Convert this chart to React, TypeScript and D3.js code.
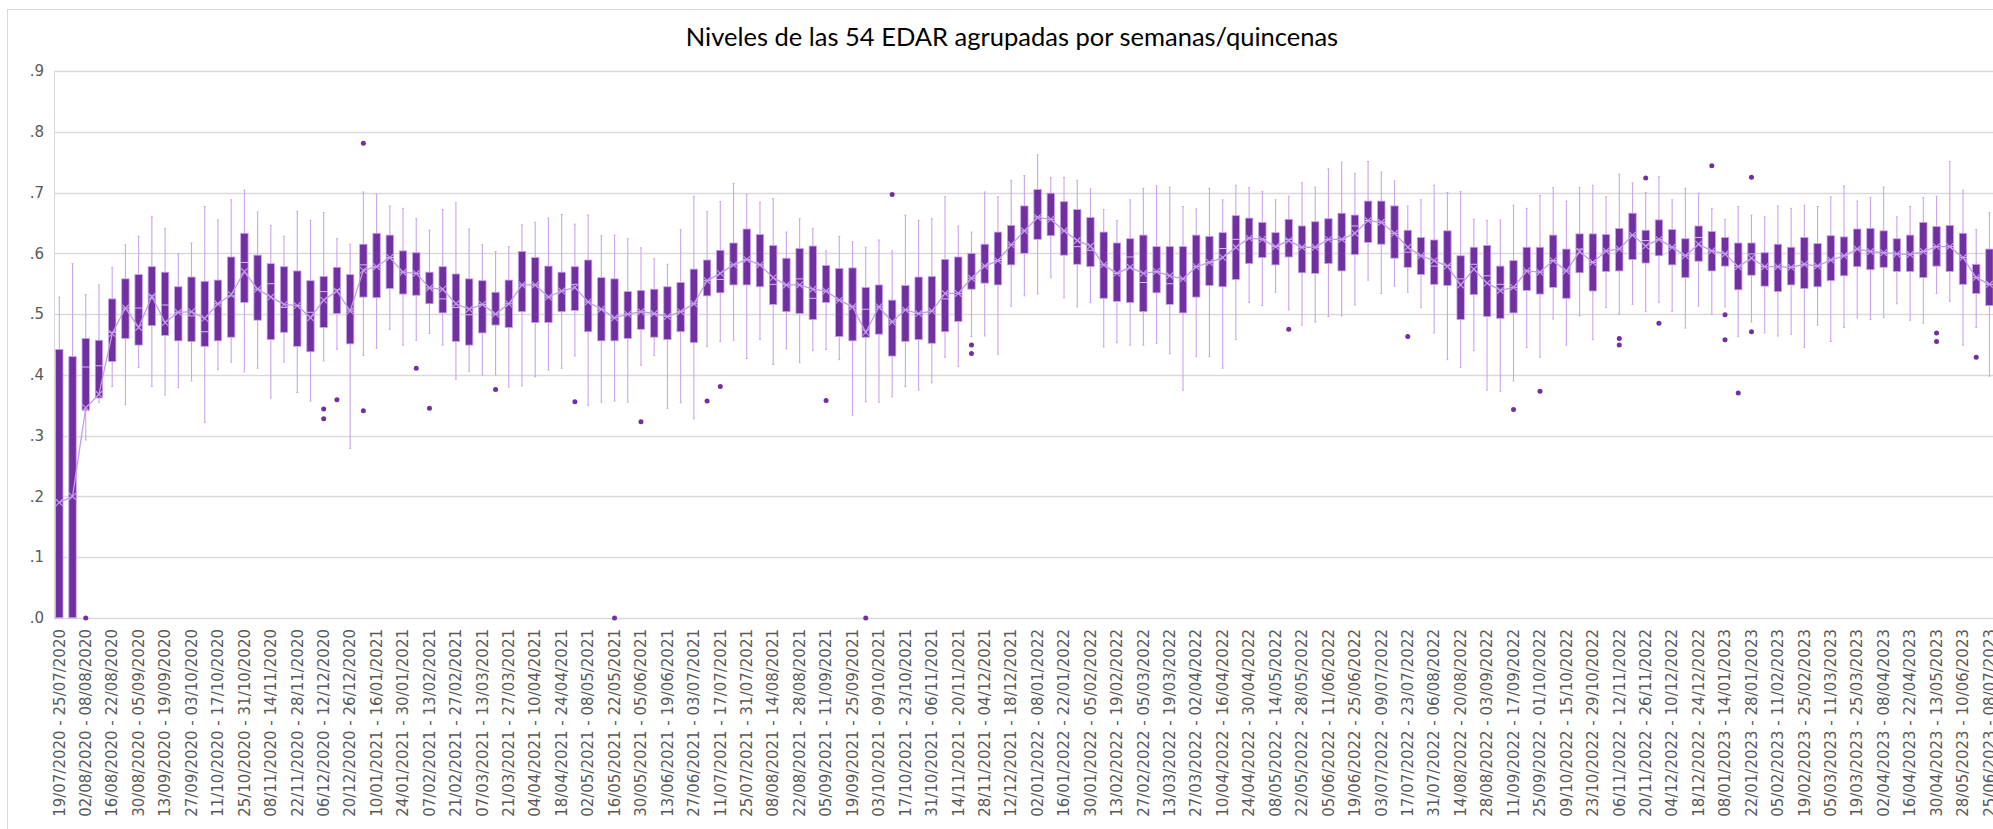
import React from "react";
import * as d3 from "d3";

const TITLE = "Niveles de las 54 EDAR agrupadas por semanas/quincenas";

const CATEGORIES: string[] = [
  "19/07/2020 - 25/07/2020", "26/07/2020 - 01/08/2020", "02/08/2020 - 08/08/2020", "09/08/2020 - 15/08/2020",
  "16/08/2020 - 22/08/2020", "23/08/2020 - 29/08/2020", "30/08/2020 - 05/09/2020", "06/09/2020 - 12/09/2020",
  "13/09/2020 - 19/09/2020", "20/09/2020 - 26/09/2020", "27/09/2020 - 03/10/2020", "04/10/2020 - 10/10/2020",
  "11/10/2020 - 17/10/2020", "18/10/2020 - 24/10/2020", "25/10/2020 - 31/10/2020", "01/11/2020 - 07/11/2020",
  "08/11/2020 - 14/11/2020", "15/11/2020 - 21/11/2020", "22/11/2020 - 28/11/2020", "29/11/2020 - 05/12/2020",
  "06/12/2020 - 12/12/2020", "13/12/2020 - 19/12/2020", "20/12/2020 - 26/12/2020", "27/12/2020 - 09/01/2021",
  "10/01/2021 - 16/01/2021", "17/01/2021 - 23/01/2021", "24/01/2021 - 30/01/2021", "31/01/2021 - 06/02/2021",
  "07/02/2021 - 13/02/2021", "14/02/2021 - 20/02/2021", "21/02/2021 - 27/02/2021", "28/02/2021 - 06/03/2021",
  "07/03/2021 - 13/03/2021", "14/03/2021 - 20/03/2021", "21/03/2021 - 27/03/2021", "28/03/2021 - 03/04/2021",
  "04/04/2021 - 10/04/2021", "11/04/2021 - 17/04/2021", "18/04/2021 - 24/04/2021", "25/04/2021 - 01/05/2021",
  "02/05/2021 - 08/05/2021", "09/05/2021 - 15/05/2021", "16/05/2021 - 22/05/2021", "23/05/2021 - 29/05/2021",
  "30/05/2021 - 05/06/2021", "06/06/2021 - 12/06/2021", "13/06/2021 - 19/06/2021", "20/06/2021 - 26/06/2021",
  "27/06/2021 - 03/07/2021", "04/07/2021 - 10/07/2021", "11/07/2021 - 17/07/2021", "18/07/2021 - 24/07/2021",
  "25/07/2021 - 31/07/2021", "01/08/2021 - 07/08/2021", "08/08/2021 - 14/08/2021", "15/08/2021 - 21/08/2021",
  "22/08/2021 - 28/08/2021", "29/08/2021 - 04/09/2021", "05/09/2021 - 11/09/2021", "12/09/2021 - 18/09/2021",
  "19/09/2021 - 25/09/2021", "26/09/2021 - 02/10/2021", "03/10/2021 - 09/10/2021", "10/10/2021 - 16/10/2021",
  "17/10/2021 - 23/10/2021", "24/10/2021 - 30/10/2021", "31/10/2021 - 06/11/2021", "07/11/2021 - 13/11/2021",
  "14/11/2021 - 20/11/2021", "21/11/2021 - 27/11/2021", "28/11/2021 - 04/12/2021", "05/12/2021 - 11/12/2021",
  "12/12/2021 - 18/12/2021", "19/12/2021 - 01/01/2022", "02/01/2022 - 08/01/2022", "09/01/2022 - 15/01/2022",
  "16/01/2022 - 22/01/2022", "23/01/2022 - 29/01/2022", "30/01/2022 - 05/02/2022", "06/02/2022 - 12/02/2022",
  "13/02/2022 - 19/02/2022", "20/02/2022 - 26/02/2022", "27/02/2022 - 05/03/2022", "06/03/2022 - 12/03/2022",
  "13/03/2022 - 19/03/2022", "20/03/2022 - 26/03/2022", "27/03/2022 - 02/04/2022", "03/04/2022 - 09/04/2022",
  "10/04/2022 - 16/04/2022", "17/04/2022 - 23/04/2022", "24/04/2022 - 30/04/2022", "01/05/2022 - 07/05/2022",
  "08/05/2022 - 14/05/2022", "15/05/2022 - 21/05/2022", "22/05/2022 - 28/05/2022", "29/05/2022 - 04/06/2022",
  "05/06/2022 - 11/06/2022", "12/06/2022 - 18/06/2022", "19/06/2022 - 25/06/2022", "26/06/2022 - 02/07/2022",
  "03/07/2022 - 09/07/2022", "10/07/2022 - 16/07/2022", "17/07/2022 - 23/07/2022", "24/07/2022 - 30/07/2022",
  "31/07/2022 - 06/08/2022", "07/08/2022 - 13/08/2022", "14/08/2022 - 20/08/2022", "21/08/2022 - 27/08/2022",
  "28/08/2022 - 03/09/2022", "04/09/2022 - 10/09/2022", "11/09/2022 - 17/09/2022", "18/09/2022 - 24/09/2022",
  "25/09/2022 - 01/10/2022", "02/10/2022 - 08/10/2022", "09/10/2022 - 15/10/2022", "16/10/2022 - 22/10/2022",
  "23/10/2022 - 29/10/2022", "30/10/2022 - 05/11/2022", "06/11/2022 - 12/11/2022", "13/11/2022 - 19/11/2022",
  "20/11/2022 - 26/11/2022", "27/11/2022 - 03/12/2022", "04/12/2022 - 10/12/2022", "11/12/2022 - 17/12/2022",
  "18/12/2022 - 24/12/2022", "25/12/2022 - 07/01/2023", "08/01/2023 - 14/01/2023", "15/01/2023 - 21/01/2023",
  "22/01/2023 - 28/01/2023", "29/01/2023 - 04/02/2023", "05/02/2023 - 11/02/2023", "12/02/2023 - 18/02/2023",
  "19/02/2023 - 25/02/2023", "26/02/2023 - 04/03/2023", "05/03/2023 - 11/03/2023", "12/03/2023 - 18/03/2023",
  "19/03/2023 - 25/03/2023", "26/03/2023 - 01/04/2023", "02/04/2023 - 08/04/2023", "09/04/2023 - 15/04/2023",
  "16/04/2023 - 22/04/2023", "23/04/2023 - 29/04/2023", "30/04/2023 - 13/05/2023", "14/05/2023 - 27/05/2023",
  "28/05/2023 - 10/06/2023", "11/06/2023 - 24/06/2023", "25/06/2023 - 08/07/2023",
];

const WHISKER_LOW = [
  0, 0, .293, .355, .381, .351, .412, .381, .367, .379, .390, .322, .409, .421, .405, .411, .362, .421, .371, .357,
  .423, .442, .279, .432, .444, .475, .449, .457, .468, .449, .393, .406, .400, .400, .380, .382, .397, .408, .411, .431,
  .350, .355, .357, .355, .416, .432, .345, .354, .328, .447, .455, .457, .427, .458, .417, .443, .420, .440, .442, .425,
  .334, .356, .355, .364, .381, .375, .387, .429, .414, .463, .464, .434, .513, .530, .533, .560, .527, .512, .519, .446,
  .453, .449, .449, .452, .435, .375, .430, .430, .411, .458, .519, .514, .536, .507, .482, .487, .496, .497, .515, .556,
  .534, .546, .536, .511, .469, .425, .412, .440, .375, .373, .390, .445, .429, .492, .449, .497, .458, .511, .500, .516,
  .504, .519, .504, .477, .513, .500, .512, .463, .487, .469, .464, .467, .445, .482, .455, .478, .494, .491, .494, .517,
  .490, .485, .534, .521, .449, .478, .398,
];

const Q1 = [
  0, 0, .342, .362, .422, .460, .449, .481, .465, .456, .455, .447, .456, .462, .519, .490, .458, .470, .447, .438,
  .478, .501, .451, .528, .527, .542, .533, .531, .517, .502, .455, .449, .469, .482, .478, .504, .486, .486, .504, .506,
  .471, .456, .456, .460, .475, .462, .458, .471, .453, .530, .535, .548, .548, .545, .516, .504, .501, .491, .519, .463,
  .456, .462, .467, .431, .455, .458, .452, .471, .488, .541, .551, .548, .581, .600, .623, .629, .597, .582, .578, .526,
  .521, .519, .504, .535, .516, .502, .528, .547, .545, .557, .583, .593, .581, .594, .568, .567, .583, .571, .598, .618,
  .615, .592, .577, .565, .549, .547, .491, .532, .496, .493, .502, .539, .533, .544, .526, .568, .538, .570, .571, .590,
  .584, .596, .581, .560, .587, .571, .579, .540, .564, .546, .537, .548, .542, .545, .555, .563, .578, .573, .577, .570,
  .570, .560, .579, .570, .549, .534, .514,
];

const MEDIAN = [
  0, 0, .413, .415, .470, .510, .510, .530, .515, .503, .497, .471, .517, .530, .585, .541, .550, .511, .514, .503,
  .537, .540, .505, .581, .578, .593, .569, .567, .543, .525, .511, .499, .516, .500, .517, .548, .548, .528, .538, .549,
  .520, .508, .494, .500, .504, .500, .496, .504, .517, .555, .557, .581, .590, .581, .549, .548, .558, .526, .538, .523,
  .512, .508, .512, .487, .507, .501, .505, .525, .534, .559, .579, .588, .614, .637, .660, .656, .637, .611, .605, .581,
  .567, .594, .552, .570, .550, .558, .578, .585, .608, .623, .625, .623, .611, .623, .610, .610, .623, .623, .645, .654,
  .651, .633, .602, .596, .579, .580, .558, .582, .563, .549, .544, .571, .569, .588, .571, .607, .585, .604, .607, .630,
  .621, .623, .610, .596, .626, .604, .600, .578, .599, .578, .578, .577, .582, .579, .589, .596, .607, .603, .601, .599,
  .598, .603, .611, .611, .593, .560, .549,
];

const Q3 = [
  .442, .430, .460, .457, .525, .558, .565, .578, .569, .545, .561, .554, .556, .594, .633, .597, .583, .578, .571, .555,
  .562, .577, .565, .615, .633, .630, .604, .601, .569, .578, .566, .558, .555, .536, .556, .603, .593, .579, .569, .578,
  .589, .560, .558, .537, .539, .541, .545, .552, .574, .589, .605, .617, .640, .631, .613, .592, .608, .612, .580, .575,
  .576, .544, .548, .523, .547, .561, .562, .590, .594, .600, .615, .635, .646, .678, .705, .699, .685, .672, .659, .635,
  .617, .624, .630, .611, .611, .611, .630, .628, .634, .662, .658, .651, .634, .656, .645, .652, .657, .666, .663, .686,
  .686, .678, .638, .626, .622, .637, .596, .610, .613, .579, .588, .610, .610, .630, .607, .632, .632, .631, .641, .666,
  .638, .655, .639, .624, .645, .636, .626, .617, .617, .601, .615, .610, .626, .616, .629, .627, .640, .641, .637, .624,
  .630, .651, .644, .646, .633, .582, .607,
];

const WHISKER_HIGH = [
  .528, .583, .532, .548, .577, .614, .628, .661, .641, .599, .617, .677, .655, .688, .704, .668, .646, .628, .669, .654,
  .667, .624, .615, .701, .697, .678, .674, .657, .638, .672, .683, .640, .614, .603, .611, .647, .651, .658, .664, .648,
  .663, .629, .630, .624, .609, .591, .582, .639, .694, .669, .685, .715, .697, .684, .690, .635, .657, .641, .604, .628,
  .619, .610, .622, .604, .663, .654, .657, .693, .645, .635, .701, .693, .720, .728, .762, .725, .725, .720, .706, .672,
  .654, .688, .707, .711, .709, .677, .673, .707, .688, .712, .708, .702, .688, .694, .716, .709, .739, .750, .731, .751,
  .734, .719, .678, .688, .712, .700, .702, .656, .654, .655, .679, .674, .695, .708, .686, .708, .712, .693, .730, .716,
  .700, .726, .688, .707, .699, .674, .656, .677, .663, .660, .678, .674, .679, .677, .693, .711, .686, .692, .709, .660,
  .677, .692, .694, .751, .704, .639, .667,
];

const MEAN = [
  .190, .200, .346, .368, .468, .510, .478, .529, .486, .503, .504, .493, .517, .532, .570, .541, .528, .516, .514, .494,
  .523, .538, .505, .572, .578, .593, .569, .567, .543, .541, .517, .508, .516, .500, .517, .548, .548, .528, .538, .544,
  .520, .508, .494, .500, .504, .501, .496, .504, .517, .555, .567, .581, .590, .581, .560, .548, .548, .541, .538, .523,
  .512, .470, .512, .487, .507, .501, .505, .534, .534, .559, .579, .588, .614, .637, .659, .656, .637, .621, .612, .581,
  .567, .577, .567, .570, .563, .558, .578, .585, .593, .610, .625, .623, .611, .621, .610, .610, .623, .623, .633, .654,
  .651, .633, .610, .596, .588, .579, .548, .574, .551, .539, .544, .571, .569, .588, .571, .603, .585, .604, .607, .630,
  .612, .623, .610, .596, .615, .604, .599, .578, .592, .578, .578, .577, .582, .579, .589, .596, .607, .603, .601, .599,
  .598, .603, .611, .611, .593, .560, .549,
];

// [category index, value]
const OUTLIERS: [number, number][] = [
  [2, 0], [20, .344], [20, .328], [21, .359], [23, .341], [23, .781], [27, .411], [28, .345], [33, .376], [39, .356],
  [42, 0], [44, .323], [49, .357], [50, .381], [58, .358], [61, 0], [63, .697], [69, .449], [69, .435], [93, .475],
  [102, .463], [110, .343], [112, .373], [118, .460], [118, .449], [120, .724], [121, .485], [125, .744], [126, .499],
  [126, .458], [127, .370], [128, .725], [128, .471], [142, .469], [142, .455], [145, .429],
];

const Y_TICKS = [0, 0.1, 0.2, 0.3, 0.4, 0.5, 0.6, 0.7, 0.8, 0.9];

const W = 1993;
const H = 829;
const PLOT_LEFT = 54;
const PLOT_TOP = 71;
const PLOT_BOTTOM = 618;
const STEP = 13.22;

const BOX_FILL = "#7030A0";
const BOX_STROKE = "#C9A2EE";
const WHISKER = "#CBA4F0";
const MEAN_COLOR = "#C39BEA";
const MEDIAN_COLOR = "#D9BDF5";
const GRID = "#D9D9D9";
const TEXT = "#595959";

export default function App() {
  const x = d3
    .scaleBand<string>()
    .domain(CATEGORIES)
    .range([PLOT_LEFT - 1.3, PLOT_LEFT - 1.3 + CATEGORIES.length * STEP])
    .padding(0);
  const y = d3.scaleLinear().domain([0, 0.9]).range([PLOT_BOTTOM, PLOT_TOP]);
  const bw = x.bandwidth();
  const boxW = bw * 0.56;
  const cx = (i: number) => (x(CATEGORIES[i]) as number) + bw / 2;

  const meanLine = d3
    .line<number>()
    .x((_, i) => cx(i))
    .y((d) => y(d));

  const fmt = (v: number) => v.toFixed(1).replace(/^0/, "");

  return (
    <svg
      width={W}
      height={H}
      style={{ position: "absolute", left: 0, top: 0, background: "#fff", display: "block" }}
    >
      <rect x={0} y={0} width={W} height={H} fill="#fff" />
      <rect x={7.5} y={9.5} width={2200} height={1000} fill="none" stroke={GRID} strokeWidth={1} />
      <text
        x={1012}
        y={46}
        textAnchor="middle"
        fontFamily="Lato, 'Open Sans', sans-serif"
        fontSize={25.5}
        fill="#000"
      >
        {TITLE}
      </text>
      {/* gridlines */}
      {Y_TICKS.map((t) => (
        <g key={t}>
          <line x1={PLOT_LEFT} x2={W + 50} y1={Math.round(y(t)) + 0.5} y2={Math.round(y(t)) + 0.5} stroke={GRID} strokeWidth={1.3} />
          <text
            x={44}
            y={y(t)}
            dy="0.35em"
            textAnchor="end"
            fontFamily="'DejaVu Sans', sans-serif"
            fontSize={15}
            fill={TEXT}
          >
            {fmt(t)}
          </text>
        </g>
      ))}
      <line x1={PLOT_LEFT + 0.5} x2={PLOT_LEFT + 0.5} y1={PLOT_TOP} y2={PLOT_BOTTOM} stroke={GRID} strokeWidth={1} />

      {/* whiskers */}
      {CATEGORIES.map((c, i) => {
        const xc = cx(i);
        return (
          <g key={"w" + i}>
            <line x1={xc} x2={xc} y1={y(WHISKER_HIGH[i])} y2={y(Q3[i])} stroke={WHISKER} strokeWidth={1.1} />
            <line x1={xc} x2={xc} y1={y(Q1[i])} y2={y(WHISKER_LOW[i])} stroke={WHISKER} strokeWidth={1.1} />
            <line x1={xc - 1} x2={xc + 1} y1={y(WHISKER_HIGH[i])} y2={y(WHISKER_HIGH[i])} stroke={WHISKER} strokeWidth={1} />
            <line x1={xc - 1} x2={xc + 1} y1={y(WHISKER_LOW[i])} y2={y(WHISKER_LOW[i])} stroke={WHISKER} strokeWidth={1} />
          </g>
        );
      })}

      {/* boxes */}
      {CATEGORIES.map((c, i) => {
        const xc = cx(i);
        const top = y(Q3[i]);
        const bot = y(Q1[i]);
        return (
          <g key={"b" + i}>
            <rect
              x={xc - boxW / 2}
              y={top}
              width={boxW}
              height={Math.max(bot - top, 0.5)}
              fill={BOX_FILL}
              stroke={BOX_STROKE}
              strokeWidth={0.8}
            />
            <line
              x1={xc - boxW / 2}
              x2={xc + boxW / 2}
              y1={y(MEDIAN[i])}
              y2={y(MEDIAN[i])}
              stroke={MEDIAN_COLOR}
              strokeWidth={1}
            />
          </g>
        );
      })}

      {/* mean line and markers */}
      <path d={meanLine(MEAN) || ""} fill="none" stroke={MEAN_COLOR} strokeWidth={1.3} />
      {MEAN.map((m, i) => {
        const xc = cx(i);
        const ym = y(m);
        const s = 3.3;
        return (
          <path
            key={"m" + i}
            d={`M${xc - s},${ym - s}L${xc + s},${ym + s}M${xc - s},${ym + s}L${xc + s},${ym - s}`}
            stroke={MEAN_COLOR}
            strokeWidth={1.2}
            fill="none"
          />
        );
      })}

      {/* outliers */}
      {OUTLIERS.map(([i, v], k) => (
        <circle key={"o" + k} cx={cx(i)} cy={y(v)} r={2.5} fill={BOX_FILL} />
      ))}

      {/* x labels */}
      {CATEGORIES.map((c, i) =>
        i % 2 === 0 ? (
          <text
            key={"l" + i}
            transform={`translate(${cx(i)},629) rotate(-90)`}
            dy="0.35em"
            textAnchor="end"
            fontFamily="'DejaVu Sans', sans-serif"
            fontSize={15}
            fill={TEXT}
          >
            {c}
          </text>
        ) : null
      )}
    </svg>
  );
}
